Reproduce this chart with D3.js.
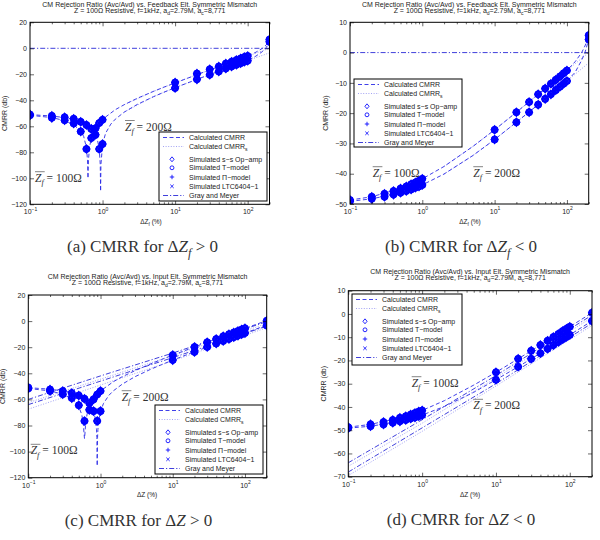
<!DOCTYPE html>
<html>
<head>
<meta charset="utf-8">
<script src="https://cdn.jsdelivr.net/npm/d3@7"></script>
<style>
body { margin: 0; background: #fff; }
svg { font-family: "Liberation Sans", Arial, sans-serif; }
.zf { font-family: "Liberation Serif", "DejaVu Serif", serif; fill: #333; }
.cap { font-family: "Liberation Serif", "DejaVu Serif", serif; fill: #333; }
</style>
</head>
<body>
<svg id="fig" width="600" height="540"></svg>
<script>
// Mismatch values (%) where the simulations were run.
var ptX = [0.1, 0.2, 0.3, 0.4, 0.5, 0.6, 0.7, 0.8, 0.9, 1, 10, 20, 30, 40, 50, 60, 70, 80, 90, 100, 200];

// (a) feedback element, dZ > 0
var ptsA100 = [-51.5, -53.5, -55.4, -57.8, -64, -77.5, -69, -61.5, -57.5, -55, -26.3, -19.5, -16.2, -14, -11.8, -10.3, -9, -7.8, -6.8, -5.9, 6.8];
var ptsA200 = [-51, -52, -53, -54.2, -56.5, -59, -62, -66.5, -77.5, -73.7, -30.6, -23.9, -20.3, -17.9, -15.6, -14, -12.7, -11.5, -10.4, -9.5, 5.1];
var calcA100X = [0.1, 0.2, 0.3, 0.4, 0.5, 0.55, 0.6, 0.62, 0.63, 0.64, 0.66, 0.7, 0.8, 0.9, 1, 1.5, 2, 3, 5, 7, 10, 20, 30, 50, 70, 100, 130, 160, 180, 200];
var calcA100 = [-51.5, -53.3, -55.6, -58.8, -63.7, -67.9, -76.4, -86, -100, -86, -76.4, -69.1, -61.4, -57.4, -54.6, -47.2, -43.3, -38.5, -33.2, -29.9, -26.6, -20.3, -16.6, -12.1, -9.2, -6, -3, 0, 2.5, 6.8];
var calcA200X = [0.1, 0.2, 0.3, 0.4, 0.5, 0.6, 0.7, 0.8, 0.85, 0.9, 0.93, 0.94, 0.95, 1, 1.1, 1.3, 1.5, 2, 3, 5, 7, 10, 20, 30, 50, 70, 100, 130, 160, 180, 200];
var calcA200 = [-51, -52.1, -53.3, -54.8, -56.6, -58.8, -61.9, -66.5, -70.4, -77.4, -89.5, -110, -89.5, -73.9, -65.4, -58.3, -54.5, -49, -43.2, -37.3, -33.8, -30.3, -23.9, -20.2, -15.7, -12.7, -9.5, -6, -2.5, 0.5, 5.1];
var sX = [2, 5, 10, 20, 50, 100, 200];
var calcSA100 = [-43.3, -33.2, -26.6, -20.3, -12.1, -6, 0];
var calcSA200 = [-49, -37.3, -30.3, -23.9, -15.7, -9.5, -3.5];
var gmFlatX = [0.1, 200];
var gmFlat = [0, 0];

// (b) feedback element, dZ < 0
var ptsB100 = [-48.7, -47.6, -46.6, -45.7, -44.9, -44.2, -43.5, -42.9, -42.3, -41.7, -25.5, -19.7, -16.3, -13.8, -11.9, -10.3, -9, -7.9, -6.8, -5.9, 5.7];
var ptsB200 = [-49.1, -48.3, -47.6, -46.9, -46.3, -45.7, -45.2, -44.6, -44.2, -43.7, -28.7, -23, -19.7, -17.2, -15.3, -13.8, -12.4, -11.3, -10.3, -9.4, 4.3];
var calcBX = [0.1, 0.2, 0.5, 1, 2, 5, 10, 20, 50, 100, 130, 160, 180, 200];
var calcB100 = [-48.7, -47.6, -44.9, -41.7, -37.6, -31, -25.5, -19.7, -11.9, -5.9, -3, 0, 2.5, 5.7];
var calcB200 = [-49.1, -48.3, -46.3, -43.7, -40.1, -34, -28.7, -23, -15.3, -9.4, -6.5, -2.5, 0.5, 4.3];
var calcSB100 = [-37.6, -31, -25.5, -19.7, -11.9, -5.9, 0];
var calcSB200 = [-40.1, -34, -28.7, -23, -15.3, -9.4, -3.4];

// (c) input element, dZ > 0
var ptsC100 = [-51.6, -53.5, -56, -59, -64.5, -76.6, -68, -60, -56.2, -53.6, -26.1, -19.8, -16.2, -13.7, -11.7, -10.1, -8.7, -7.6, -6.5, -5.6, 0.3];
var ptsC200 = [-51, -52.4, -53.6, -55.2, -57, -59.5, -63, -69, -76.5, -69, -29.9, -23.6, -19.8, -17.2, -15.3, -13.7, -12.3, -11.1, -10.1, -9.2, -3.3];
var calcC100X = [0.1, 0.2, 0.3, 0.4, 0.5, 0.55, 0.58, 0.59, 0.6, 0.61, 0.62, 0.65, 0.7, 0.8, 0.9, 1, 1.5, 2, 3, 5, 7, 10, 20, 50, 100, 200];
var calcC100 = [-51.6, -53.5, -56, -59.5, -65.6, -71.6, -79.5, -85.6, -90, -85.6, -79.5, -71.6, -65.6, -59.5, -56, -53.5, -46.5, -42.6, -38, -32.7, -29.4, -26.1, -19.8, -11.7, -5.6, 0.4];
var calcC200X = [0.1, 0.2, 0.3, 0.4, 0.5, 0.6, 0.7, 0.8, 0.85, 0.88, 0.89, 0.9, 0.91, 0.92, 0.95, 1, 1.1, 1.3, 1.5, 2, 3, 5, 7, 10, 20, 50, 100, 200];
var calcC200 = [-51, -52.2, -53.5, -55.1, -57, -59.5, -63.1, -69.1, -75.1, -83.1, -89.1, -111, -89.1, -83.1, -75.1, -69.1, -63.1, -57, -53.5, -48.3, -42.6, -36.8, -33.4, -29.9, -23.5, -15.3, -9.2, -3.1];
var gmX = [0.1, 1, 10, 100, 200];
var gmC100 = [-60, -42, -24.5, -6, -0.4];
var gmC200 = [-64, -46, -28, -9.5, -3.8];
var calcSC100 = [-62.5, -44.5, -26.5, -7.5, -1.8];
var calcSC200 = [-67.5, -49, -30.5, -11, -5];

// (d) input element, dZ < 0
var ptsD100 = [-48.7, -47.5, -46.5, -45.6, -44.7, -44, -43.3, -42.6, -42, -41.5, -25.1, -19.3, -15.8, -13.4, -11.5, -9.9, -8.6, -7.4, -6.4, -5.5, 0.5];
var ptsD200 = [-49.1, -48.3, -47.5, -46.8, -46.2, -45.6, -45, -44.5, -44, -43.5, -28.3, -22.7, -19.3, -16.9, -15, -13.4, -12.1, -10.9, -9.9, -9, -3];
var calcDX = [0.1, 0.2, 0.5, 1, 2, 5, 10, 20, 50, 100, 200];
var calcD100 = [-48.7, -47.5, -44.7, -41.5, -37.3, -30.6, -25.1, -19.3, -11.5, -5.5, 0.5];
var calcD200 = [-49.1, -48.3, -46.2, -43.5, -39.8, -33.7, -28.3, -22.7, -15, -9, -3];
var gmD100 = [-64, -45.5, -26.5, -6.5, -0.5];
var gmD200 = [-68, -49, -30, -10, -4];
var calcSD100 = [-65.5, -47, -27.5, -7.5, -1.5];
var calcSD200 = [-69.5, -50.5, -31, -11, -5];

var xMajor = [0.1, 1, 10, 100];
var legendNames = ["Calculated CMRR", "Calculated CMRR", "Simulated s\u2212s Op\u2212amp", "Simulated T\u2212model",
	"Simulated \u03a0\u2212model", "Simulated LTC6404\u22121", "Gray and Meyer"];

var title1F = "CM Rejection Ratio (Avc/Avd) vs. Feedback Elt. Symmetric Mismatch";
var title1I = "CM Rejection Ratio (Avc/Avd) vs. Input Elt. Symmetric Mismatch";

var BLUE = "#0000ff";
var svg = d3.select("#fig");

/*
 * richText()
 * Append tspans to a text element; parts may be italic, sub or super.
 */
function richText(t, parts, size) {
	var off = 0;
	parts.forEach(function(p) {
		var want = p.sub ? size * 0.3 : (p.sup ? -size * 0.4 : 0);
		var s = t.append("tspan").attr("dy", want - off).text(p.t);
		off = want;
		if (p.sub || p.sup) s.attr("font-size", size * 0.72);
		if (p.it) s.attr("font-style", "italic");
	});
}

// marker shapes, all drawn as outlines
var markerPaths = [
	"M0,-3.8L3.2,0L0,3.8L-3.2,0Z",
	"M3,0A3,3 0 1,1 -3,0A3,3 0 1,1 3,0Z",
	"M-3.4,0H3.4M0,-3.4V3.4",
	"M-2.6,-2.6L2.6,2.6M-2.6,2.6L2.6,-2.6"
];

var lineStyles = {
	calc: { color: "#2a2ae6", dash: "4,2.5", w: 0.9 },
	calcS: { color: "#8c8cf0", dash: "1,1.6", w: 0.8 },
	gm: { color: "#2a2ad8", dash: "5,2,1.2,2", w: 0.9 }
};

function drawPanel(p) {
	var x = d3.scaleLog().domain([0.1, 200]).range([p.left, p.right]);
	var y = d3.scaleLinear().domain(p.yDom).range([p.bottom, p.top]);
	var g = svg.append("g");

	g.append("rect").attr("x", p.left).attr("y", p.top)
		.attr("width", p.right - p.left).attr("height", p.bottom - p.top).attr("fill", "#fff");

	var clipId = "clip" + p.id;
	g.append("clipPath").attr("id", clipId).append("rect")
		.attr("x", p.left).attr("y", p.top).attr("width", p.right - p.left).attr("height", p.bottom - p.top);

	var plot = g.append("g").attr("clip-path", "url(#" + clipId + ")");
	var line = d3.line().x(function(d) { return x(d[0]); }).y(function(d) { return y(d[1]); });

	// curves: calculated, simplified and Gray & Meyer
	p.lines.forEach(function(l) {
		var st = lineStyles[l.kind];
		plot.append("path").datum(d3.zip(l.x, l.y)).attr("d", line)
			.attr("fill", "none").attr("stroke", st.color).attr("stroke-width", st.w)
			.attr("stroke-dasharray", st.dash);
	});

	// simulated points, four overlapping markers each
	[p.pts100, p.pts200].forEach(function(vals) {
		var pts = d3.zip(ptX, vals);
		markerPaths.forEach(function(mp) {
			plot.selectAll(null).data(pts).enter().append("path")
				.attr("d", mp)
				.attr("transform", function(d) { return "translate(" + x(d[0]) + "," + y(d[1]) + ")"; })
				.attr("fill", "none").attr("stroke", BLUE).attr("stroke-width", 1.6);
		});
	});

	// axes with inward ticks on all four sides
	var xMinor = [];
	[0.1, 1, 10, 100].forEach(function(dec) {
		for (var k = 2; k <= 9; k++) if (dec * k <= 200) xMinor.push(dec * k);
	});
	function styleAxis(a) {
		a.select(".domain").remove();
		a.attr("font-size", 7).attr("font-family", null);
		a.selectAll("line").attr("stroke", "#000").attr("stroke-width", 0.6);
		a.selectAll("text").attr("fill", "#222");
	}
	var xb = g.append("g").attr("transform", "translate(0," + p.bottom + ")")
		.call(d3.axisBottom(x).tickValues(xMajor).tickSize(-4).tickPadding(5).tickFormat(""));
	styleAxis(xb);
	xb.selectAll(".tick text").attr("dy", "0.71em").each(function(d) {
		var t = d3.select(this);
		t.append("tspan").text("10");
		t.append("tspan").attr("dy", -3.5).attr("font-size", 5).text(String(Math.round(Math.log10(d))).replace("-", "\u2212"));
	});
	styleAxis(g.append("g").attr("transform", "translate(0," + p.bottom + ")")
		.call(d3.axisBottom(x).tickValues(xMinor).tickSize(-2).tickFormat("")));
	styleAxis(g.append("g").attr("transform", "translate(0," + p.top + ")")
		.call(d3.axisTop(x).tickValues(xMajor).tickSize(-4).tickFormat("")));
	styleAxis(g.append("g").attr("transform", "translate(0," + p.top + ")")
		.call(d3.axisTop(x).tickValues(xMinor).tickSize(-2).tickFormat("")));
	styleAxis(g.append("g").attr("transform", "translate(" + p.left + ",0)")
		.call(d3.axisLeft(y).tickValues(p.yTicks).tickSize(-4).tickPadding(3)));
	styleAxis(g.append("g").attr("transform", "translate(" + p.right + ",0)")
		.call(d3.axisRight(y).tickValues(p.yTicks).tickSize(-4).tickFormat("")));

	g.append("rect").attr("x", p.left).attr("y", p.top)
		.attr("width", p.right - p.left).attr("height", p.bottom - p.top)
		.attr("fill", "none").attr("stroke", "#000").attr("stroke-width", 1);

	// titles
	var cx = (p.left + p.right) / 2;
	g.append("text").attr("x", cx).attr("y", p.t1y).attr("text-anchor", "middle")
		.attr("font-size", 7).attr("fill", "#222").text(p.title);
	var t2 = g.append("text").attr("x", cx).attr("y", p.t2y).attr("text-anchor", "middle")
		.attr("font-size", 7).attr("fill", "#222");
	richText(t2, [{ t: "Z = 100\u03a9 Resistive, f=1kHz, a" }, { t: "d", sub: true }, { t: "=2.79M, a" },
		{ t: "c", sub: true }, { t: "=8,771" }], 7);

	// axis labels
	var xl = g.append("text").attr("x", p.xlx).attr("y", p.xly).attr("text-anchor", "middle")
		.attr("font-size", 6.5).attr("fill", "#222");
	richText(xl, p.fb ? [{ t: "\u0394Z" }, { t: "f", sub: true }, { t: " (%)" }] : [{ t: "\u0394Z (%)" }], 6.5);
	g.append("text").attr("transform", "translate(" + p.ylx + "," + ((p.top + p.bottom) / 2) + ") rotate(-90)")
		.attr("text-anchor", "middle").attr("font-size", 7).attr("fill", "#222").text("CMRR (db)");

	// impedance labels
	p.zf.forEach(function(z) {
		var t = g.append("text").attr("class", "zf").attr("x", z[0]).attr("y", z[1]).attr("font-size", 11.5);
		richText(t, [{ t: "Z", it: true }, { t: "f", it: true, sub: true }, { t: " = " + z[2] + "\u03a9" }], 11.5);
		var sp = t.selectAll("tspan").nodes();
		var w = sp[0].getComputedTextLength() + sp[1].getComputedTextLength();
		g.append("line").attr("x1", z[0]).attr("x2", z[0] + w + 1)
			.attr("y1", z[1] - 10).attr("y2", z[1] - 10).attr("stroke", "#333").attr("stroke-width", 0.6);
	});

	// legend
	var lg = g.append("g").attr("transform", "translate(" + p.leg[0] + "," + p.leg[1] + ")");
	lg.append("rect").attr("width", p.leg[2]).attr("height", p.leg[3])
		.attr("fill", "#fff").attr("stroke", "#000").attr("stroke-width", 1);
	var rows = [5.5, 14.5, 27.3, 35.8, 45, 54.3, 63.5];
	var kinds = ["calc", "calcS", 0, 1, 2, 3, "gm"];
	kinds.forEach(function(k, i) {
		var ry = rows[i];
		if (typeof k === "string") {
			var st = lineStyles[k];
			lg.append("line").attr("x1", 4).attr("x2", 25).attr("y1", ry).attr("y2", ry)
				.attr("stroke", st.color).attr("stroke-width", st.w).attr("stroke-dasharray", st.dash);
		} else {
			lg.append("path").attr("d", markerPaths[k]).attr("transform", "translate(13," + ry + ") scale(0.65)")
				.attr("fill", "none").attr("stroke", BLUE).attr("stroke-width", 1.3);
		}
		var t = lg.append("text").attr("x", 30).attr("y", ry + 2.5).attr("font-size", 7).attr("fill", "#222");
		if (i === 1) richText(t, [{ t: legendNames[i] }, { t: "s", sub: true }], 7);
		else t.text(legendNames[i]);
	});

	// sub-figure caption
	var cap = g.append("text").attr("class", "cap").attr("x", p.capx).attr("y", p.capy)
		.attr("text-anchor", "middle").attr("font-size", 17);
	var capParts = [{ t: "(" + p.id + ") CMRR for \u0394" }, { t: "Z", it: true }];
	if (p.fb) capParts.push({ t: "f", it: true, sub: true });
	capParts.push({ t: p.pos ? " > 0" : " < 0" });
	richText(cap, capParts, 17);
}

var panels = [
	{ id: "a", fb: true, pos: true, left: 30, right: 269.5, top: 22.3, bottom: 204.3, yDom: [-120, 20],
		yTicks: d3.range(-120, 21, 20), title: title1F, t1y: 6.5, t2y: 12.5,
		xlx: 151, xly: 224, ylx: 7, capx: 142.5, capy: 252,
		zf: [[35, 181.7, 100], [125, 130.5, 200]], leg: [159, 132, 108, 69],
		pts100: ptsA100, pts200: ptsA200,
		lines: [{ kind: "calcS", x: sX, y: calcSA100 }, { kind: "calcS", x: sX, y: calcSA200 },
			{ kind: "gm", x: gmFlatX, y: gmFlat },
			{ kind: "calc", x: calcA100X, y: calcA100 }, { kind: "calc", x: calcA200X, y: calcA200 }] },
	{ id: "b", fb: true, pos: false, left: 350, right: 588.7, top: 22.3, bottom: 204, yDom: [-50, 10],
		yTicks: d3.range(-50, 11, 10), title: title1F, t1y: 6.5, t2y: 12.5,
		xlx: 470, xly: 224, ylx: 328, capx: 461, capy: 252,
		zf: [[372.7, 176.7, 100], [473.3, 176.7, 200]], leg: [354, 79, 108, 68],
		pts100: ptsB100, pts200: ptsB200,
		lines: [{ kind: "calcS", x: sX, y: calcSB100 }, { kind: "calcS", x: sX, y: calcSB200 },
			{ kind: "gm", x: gmFlatX, y: gmFlat },
			{ kind: "calc", x: calcBX, y: calcB100 }, { kind: "calc", x: calcBX, y: calcB200 }] },
	{ id: "c", fb: false, pos: true, left: 28.3, right: 266.7, top: 295, bottom: 477.7, yDom: [-120, 20],
		yTicks: d3.range(-120, 21, 20), title: title1I, t1y: 279, t2y: 285.3,
		xlx: 147, xly: 496.7, ylx: 5, capx: 138.5, capy: 526,
		zf: [[121.7, 400.7, 200], [30.7, 454.3, 100]], leg: [155, 405, 108, 69],
		pts100: ptsC100, pts200: ptsC200,
		lines: [{ kind: "calcS", x: gmX, y: calcSC100 }, { kind: "calcS", x: gmX, y: calcSC200 },
			{ kind: "gm", x: gmX, y: gmC100 }, { kind: "gm", x: gmX, y: gmC200 },
			{ kind: "calc", x: calcC100X, y: calcC100 }, { kind: "calc", x: calcC200X, y: calcC200 }] },
	{ id: "d", fb: false, pos: false, left: 348.3, right: 592, top: 290.7, bottom: 476.7, yDom: [-70, 10],
		yTicks: d3.range(-70, 11, 10), title: title1I, t1y: 273.5, t2y: 279.8,
		xlx: 470, xly: 496.7, ylx: 326, capx: 461, capy: 525,
		zf: [[411.7, 386.7, 100], [473.3, 409.3, 200]], leg: [352, 294, 110, 71],
		pts100: ptsD100, pts200: ptsD200,
		lines: [{ kind: "calcS", x: gmX, y: calcSD100 }, { kind: "calcS", x: gmX, y: calcSD200 },
			{ kind: "gm", x: gmX, y: gmD100 }, { kind: "gm", x: gmX, y: gmD200 },
			{ kind: "calc", x: calcDX, y: calcD100 }, { kind: "calc", x: calcDX, y: calcD200 }] }
];

panels.forEach(drawPanel);
</script>
</body>
</html>
